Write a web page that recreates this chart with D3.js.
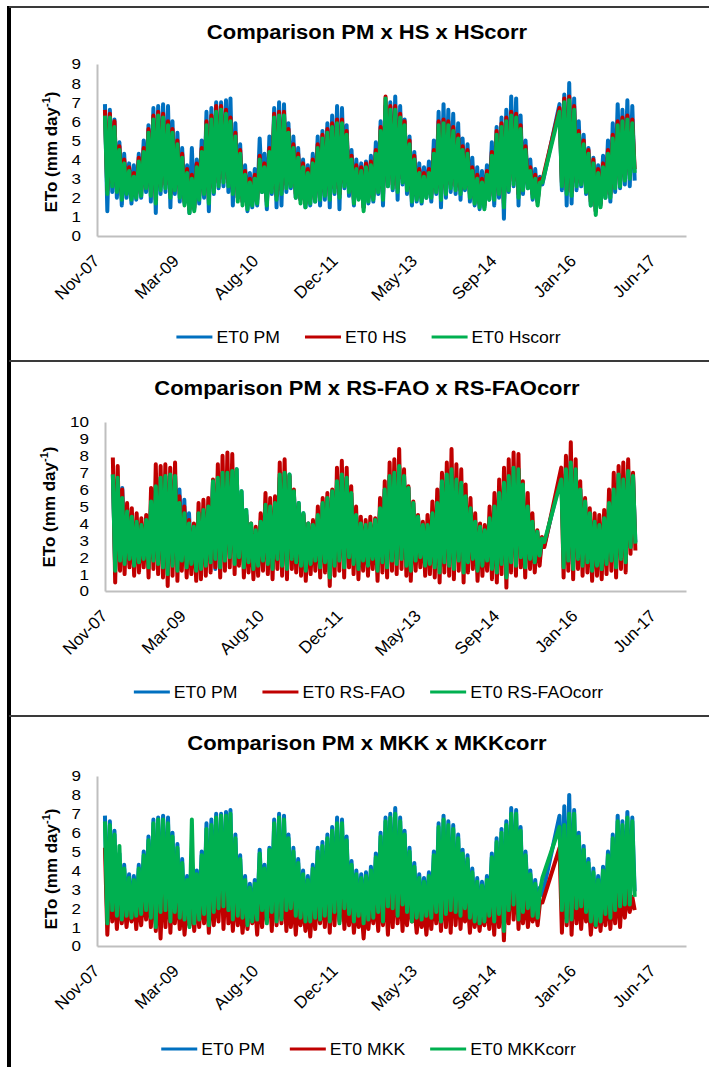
<!DOCTYPE html>
<html>
<head>
<meta charset="utf-8">
<script src="https://cdn.jsdelivr.net/npm/d3@7"></script>
<style>
  body { margin: 0; background: #fff; }
  svg { display: block; }
  text { font-family: "Liberation Sans", Arial, sans-serif; fill: #000; }
</style>
</head>
<body>
<svg id="chart" width="709" height="1067"></svg>
<script>
// ---------- data (monthly high / low of the daily ETo series, mm day-1) ----------
// months covered: Jan-2008 .. Jul-2015, then Nov-2015 .. Feb-2017 (no data Aug–Oct 2015)
const periods = [['2008-01', '2015-07'], ['2015-11', '2017-02']];

const titles = [
  'Comparison PM x HS x HScorr',
  'Comparison PM x RS-FAO x RS-FAOcorr',
  'Comparison PM x MKK x MKKcorr'
];
const legendNames = [
  ['ET0 PM', 'ET0 HS', 'ET0 Hscorr'],
  ['ET0 PM', 'ET0 RS-FAO', 'ET0 RS-FAOcorr'],
  ['ET0 PM', 'ET0 MKK', 'ET0 MKKcorr']
];
const xTickLabels = ['Nov-07', 'Mar-09', 'Aug-10', 'Dec-11', 'May-13', 'Sep-14', 'Jan-16', 'Jun-17'];

const pmHigh = [
  6.9, 6.6, 6.1, 4.9, 4.3, 3.8, 3.7, 4.3, 5.0, 5.8, 6.7, 6.8,
  6.9, 6.8, 6.0, 5.4, 4.6, 3.7, 4.6, 4.0, 5.0, 6.5, 6.7, 7.0,
  7.0, 7.1, 7.2, 5.9, 4.8, 3.7, 3.3, 3.5, 5.1, 4.3, 5.2, 6.7,
  7.0, 6.9, 5.9, 5.2, 4.6, 4.0, 3.7, 4.3, 5.2, 5.5, 5.9, 6.3,
  6.8, 6.7, 5.8, 4.5, 4.0, 3.8, 3.9, 4.2, 4.9, 6.0, 6.8, 7.0,
  7.3, 6.8, 6.1, 5.2, 4.4, 3.8, 3.6, 3.9, 5.0, 6.5, 6.9, 6.6,
  6.4, 5.9, 5.1, 4.8, 4.1, 3.6, 3.4, 3.7, 4.9, 5.7, 6.2, 6.6,
  7.3, 7.2, 6.3, 5.0, 4.0, 3.5, 3.1, 6.9, 7.4,
  8.0, 7.2, 6.0, 5.3, 4.6, 4.1, 3.7, 4.2, 5.0, 5.9, 6.9, 6.6,
  7.1, 6.8
];
const pmLow = [
  1.3, 2.3, 2.0, 1.6, 2.0, 1.7, 1.9, 2.0, 2.3, 1.8, 1.2, 2.2,
  2.3, 1.5, 2.2, 1.8, 1.7, 1.2, 1.4, 1.7, 2.0, 1.3, 2.2, 2.5,
  2.6, 2.3, 1.6, 2.0, 1.8, 1.3, 1.5, 1.6, 2.3, 1.4, 2.2, 1.5,
  1.6, 2.3, 2.5, 2.0, 1.9, 1.5, 1.6, 1.8, 1.6, 1.9, 1.5, 2.2,
  1.4, 2.5, 2.1, 1.6, 2.0, 1.5, 1.7, 1.8, 2.2, 1.6, 2.6, 2.4,
  1.9, 2.7, 2.2, 1.6, 1.8, 1.7, 2.0, 1.8, 2.2, 1.5, 2.0, 2.3,
  2.2, 1.9, 2.4, 1.8, 1.6, 1.4, 1.5, 1.9, 1.6, 2.0, 0.9, 2.3,
  2.6, 1.6, 2.2, 2.5, 1.9, 1.8, 2.7, 2.4, 1.6,
  1.7, 2.4, 2.6, 2.2, 1.6, 1.3, 1.6, 2.0, 1.8, 2.3, 2.5, 2.7,
  2.6, 2.9
];

const hsHigh = [
  6.6, 6.4, 6.0, 4.7, 4.0, 3.6, 3.3, 4.1, 4.6, 5.6, 6.3, 6.5,
  6.4, 6.0, 5.6, 5.0, 4.3, 3.5, 3.2, 3.8, 4.6, 6.0, 6.3, 6.8,
  6.8, 6.6, 6.2, 5.4, 4.5, 3.4, 3.0, 3.2, 4.2, 3.8, 4.6, 6.4,
  6.5, 6.5, 5.6, 4.8, 4.3, 3.8, 3.5, 4.0, 4.8, 5.3, 5.6, 5.9,
  6.1, 6.1, 5.5, 4.2, 3.7, 3.6, 3.8, 3.9, 4.5, 5.7, 7.3, 6.8,
  6.8, 6.4, 6.0, 5.0, 4.2, 3.5, 3.3, 3.5, 4.5, 6.0, 6.1, 6.0,
  5.7, 5.3, 4.7, 4.5, 3.6, 3.2, 3.0, 3.4, 4.4, 5.5, 5.9, 6.2,
  6.5, 6.4, 5.8, 4.7, 3.6, 3.2, 3.0, 6.7, 7.2,
  7.3, 6.8, 5.5, 5.0, 4.5, 4.0, 3.5, 3.8, 4.5, 5.3, 6.0, 6.2,
  6.3, 6.1
];
const hsLow = [
  2.4, 2.8, 2.5, 2.1, 2.4, 2.1, 2.2, 2.3, 2.7, 2.3, 1.9, 2.6,
  2.7, 2.2, 2.6, 2.2, 1.8, 1.4, 1.5, 2.1, 2.4, 1.9, 2.5, 2.8,
  3.0, 2.8, 2.4, 2.0, 1.8, 1.6, 1.8, 1.9, 2.5, 1.8, 2.5, 2.1,
  2.4, 2.7, 2.8, 2.2, 1.9, 1.7, 1.9, 2.0, 2.1, 2.3, 2.1, 2.5,
  2.2, 2.8, 2.5, 1.9, 2.1, 1.5, 2.0, 2.1, 2.5, 2.1, 2.8, 2.7,
  2.5, 3.0, 2.6, 2.0, 2.1, 2.0, 2.2, 2.2, 2.5, 2.1, 2.4, 2.7,
  2.6, 2.4, 2.7, 2.2, 1.9, 1.7, 1.6, 2.1, 2.1, 2.4, 1.7, 2.6,
  2.9, 2.2, 2.6, 2.7, 2.2, 1.8, 2.9, 2.8, 2.4,
  2.3, 2.8, 2.9, 2.5, 1.8, 1.3, 1.7, 2.2, 2.2, 2.7, 2.8, 3.1,
  3.2, 3.5
];
const hsCorrHigh = [
  6.3, 6.2, 5.7, 4.5, 3.8, 3.4, 3.1, 3.9, 4.4, 5.4, 6.1, 6.3,
  6.2, 5.8, 5.4, 4.8, 4.1, 3.3, 3.0, 3.6, 4.4, 5.8, 6.1, 6.5,
  6.6, 6.4, 6.0, 5.2, 4.3, 3.2, 2.8, 3.0, 4.0, 3.6, 4.4, 6.2,
  6.3, 6.3, 5.4, 4.6, 4.1, 3.6, 3.3, 3.8, 4.6, 5.1, 5.4, 5.7,
  5.9, 5.9, 5.3, 4.0, 3.5, 3.4, 3.6, 3.7, 4.3, 5.5, 7.2, 6.6,
  6.6, 6.2, 5.8, 4.8, 4.0, 3.3, 3.1, 3.3, 4.3, 5.8, 5.9, 5.8,
  5.5, 5.1, 4.5, 4.3, 3.4, 3.0, 2.8, 3.2, 4.2, 5.3, 5.7, 6.0,
  6.3, 6.2, 5.6, 4.5, 3.4, 3.0, 2.8, 6.5, 7.0,
  7.1, 6.6, 5.3, 4.8, 4.3, 3.8, 3.3, 3.6, 4.3, 5.1, 5.8, 6.0,
  6.1, 5.9
];
const hsCorrLow = [
  2.2, 2.6, 2.3, 1.9, 2.2, 1.9, 2.0, 2.1, 2.5, 2.1, 1.7, 2.4,
  2.5, 2.0, 2.4, 2.0, 1.6, 1.2, 1.3, 1.9, 2.2, 1.7, 2.3, 2.6,
  2.8, 2.6, 2.2, 1.8, 1.6, 1.4, 1.6, 1.7, 2.3, 1.6, 2.3, 1.9,
  2.2, 2.5, 2.6, 2.0, 1.7, 1.5, 1.7, 1.8, 1.9, 2.1, 1.9, 2.3,
  2.0, 2.6, 2.3, 1.7, 1.9, 1.3, 1.8, 1.9, 2.3, 1.9, 2.6, 2.5,
  2.3, 2.8, 2.4, 1.8, 1.9, 1.8, 2.0, 2.0, 2.3, 1.9, 2.2, 2.5,
  2.4, 2.2, 2.5, 2.0, 1.7, 1.5, 1.4, 1.9, 1.9, 2.2, 1.5, 2.4,
  2.7, 2.0, 2.4, 2.5, 2.0, 1.6, 2.8, 2.6, 2.2,
  2.1, 2.6, 2.7, 2.3, 1.6, 1.1, 1.5, 2.0, 2.0, 2.5, 2.6, 2.9,
  3.0, 3.3
];

const rsHigh = [
  7.9, 7.4, 6.0, 5.2, 4.9, 4.6, 4.3, 4.5, 6.1, 7.5, 7.4, 7.5,
  7.3, 7.6, 5.6, 5.0, 4.2, 4.0, 5.2, 5.4, 5.5, 6.6, 7.5, 8.0,
  8.2, 8.1, 6.0, 5.2, 4.5, 4.0, 3.8, 4.6, 5.8, 5.5, 5.6, 7.6,
  7.8, 6.8, 6.0, 5.0, 4.5, 4.0, 4.2, 5.0, 5.5, 5.8, 6.0, 7.3,
  7.7, 7.3, 6.2, 5.0, 4.4, 4.2, 4.4, 4.3, 5.5, 6.5, 7.6, 7.8,
  8.4, 7.2, 6.2, 5.3, 4.5, 4.1, 4.5, 5.3, 6.0, 7.0, 7.6, 8.4,
  7.5, 7.2, 6.3, 5.5, 4.6, 4.0, 3.9, 5.0, 5.8, 6.6, 7.3, 7.8,
  8.2, 8.1, 6.5, 5.8, 4.6, 3.6, 3.2, 7.3, 8.0,
  8.8, 7.8, 6.5, 5.5, 4.9, 4.6, 4.5, 4.8, 6.0, 7.0, 7.4, 7.6,
  7.8, 7.0
];
const rsLow = [
  0.5, 1.2, 1.0, 1.4, 0.9, 1.1, 1.4, 0.8, 1.3, 1.0, 0.8, 0.3,
  0.9, 0.6, 1.2, 0.8, 1.0, 0.6, 0.7, 0.9, 1.1, 1.4, 0.8, 1.2,
  1.4, 1.0, 1.5, 0.8, 1.1, 0.7, 0.9, 1.2, 1.0, 0.7, 1.3, 0.9,
  0.7, 1.3, 1.1, 0.9, 0.6, 1.0, 1.2, 0.8, 1.1, 0.3, 0.9, 1.2,
  0.8, 1.4, 1.0, 0.7, 1.2, 0.9, 1.3, 0.6, 1.1, 0.8, 1.2, 1.0,
  1.3, 0.9, 0.6, 1.2, 1.4, 0.9, 1.0, 0.8, 0.5, 1.1, 0.9, 0.7,
  1.2, 0.5, 1.1, 1.3, 0.6, 0.9, 1.2, 0.7, 0.5, 1.0, 0.2, 1.1,
  0.9, 1.4, 0.8, 1.3, 1.1, 1.5, 2.6, 0.8, 1.2,
  0.7, 1.3, 0.9, 1.1, 0.6, 0.9, 0.7, 1.0, 1.2, 0.8, 1.3, 1.1,
  2.2, 2.4
];
const rsCorrHigh = [
  6.9, 6.7, 5.5, 4.7, 4.4, 4.1, 3.9, 4.2, 5.3, 6.2, 6.7, 6.8,
  6.9, 6.8, 5.2, 4.6, 4.0, 3.8, 4.6, 4.8, 5.0, 6.5, 6.7, 7.0,
  7.0, 7.1, 7.2, 5.9, 4.8, 4.0, 3.6, 4.1, 5.1, 5.0, 5.2, 6.9,
  7.0, 6.9, 5.9, 5.2, 4.6, 4.0, 3.9, 4.5, 5.2, 5.5, 5.9, 6.5,
  6.9, 6.7, 5.8, 4.5, 4.0, 3.9, 4.0, 4.2, 4.9, 6.0, 6.8, 7.0,
  7.4, 6.8, 6.1, 5.2, 4.4, 3.9, 3.9, 4.6, 5.2, 6.5, 6.9, 7.2,
  6.6, 6.4, 5.6, 4.9, 4.1, 3.8, 3.6, 4.3, 5.0, 5.8, 6.4, 6.8,
  7.3, 7.2, 6.3, 5.0, 4.1, 3.5, 3.1, 6.6, 7.2,
  7.6, 7.2, 6.0, 5.3, 4.6, 4.1, 3.9, 4.3, 5.2, 6.0, 6.9, 6.6,
  7.1, 6.8
];
const rsCorrLow = [
  1.2, 1.8, 1.6, 1.9, 1.5, 1.7, 1.9, 1.4, 1.8, 1.6, 1.4, 1.0,
  1.5, 1.2, 1.8, 1.4, 1.6, 1.2, 1.3, 1.5, 1.7, 1.9, 1.4, 1.8,
  2.0, 1.6, 2.0, 1.4, 1.7, 1.3, 1.5, 1.8, 1.6, 1.3, 1.9, 1.5,
  1.3, 1.9, 1.7, 1.5, 1.2, 1.6, 1.8, 1.4, 1.7, 0.8, 1.5, 1.8,
  1.4, 2.0, 1.6, 1.3, 1.8, 1.5, 1.9, 1.2, 1.7, 1.4, 1.8, 1.6,
  1.9, 1.5, 1.2, 1.8, 2.0, 1.5, 1.6, 1.4, 1.1, 1.7, 1.5, 1.3,
  1.8, 1.1, 1.7, 1.9, 1.2, 1.5, 1.8, 1.3, 1.1, 1.6, 0.8, 1.7,
  1.5, 2.0, 1.4, 1.9, 1.7, 2.1, 2.9, 1.4, 1.8,
  1.3, 1.9, 1.5, 1.7, 1.2, 1.5, 1.3, 1.6, 1.8, 1.4, 1.9, 1.7,
  2.6, 2.8
];

const mkkHigh = [
  5.2, 3.5, 3.2, 2.8, 2.5, 2.4, 2.6, 2.6, 2.9, 3.3, 3.6, 3.7,
  3.8, 4.1, 3.3, 2.9, 2.5, 2.3, 2.4, 2.6, 2.9, 3.3, 3.4, 3.1,
  4.8, 3.8, 3.4, 2.9, 2.5, 2.3, 2.4, 2.5, 2.9, 2.8, 3.4, 3.9,
  3.6, 3.5, 3.0, 2.7, 2.4, 2.2, 2.3, 2.5, 2.8, 3.0, 3.4, 3.9,
  4.2, 3.6, 2.9, 2.6, 2.2, 2.1, 2.3, 2.4, 2.6, 2.9, 3.1, 3.4,
  3.7, 3.4, 3.0, 2.5, 2.1, 2.0, 2.2, 2.3, 2.7, 3.2, 3.5, 3.8,
  4.0, 3.4, 2.8, 2.5, 2.4, 2.1, 2.0, 2.3, 2.8, 3.3, 3.6, 3.9,
  4.6, 4.0, 3.3, 2.7, 2.3, 2.1, 2.3, 5.2, 4.4,
  4.7, 3.8, 3.3, 2.9, 2.5, 2.2, 2.3, 2.5, 2.9, 3.0, 3.2, 3.3,
  3.0, 2.6
];
const mkkLow = [
  0.6, 1.3, 0.9, 1.2, 1.0, 1.3, 0.9, 1.1, 1.4, 1.0, 0.8, 0.4,
  1.0, 0.7, 1.2, 0.9, 0.6, 1.1, 0.8, 1.0, 1.2, 0.7, 1.1, 1.3,
  0.9, 1.2, 0.8, 1.1, 0.7, 0.9, 1.2, 0.6, 1.0, 1.3, 0.8, 1.1,
  1.2, 0.8, 1.0, 0.6, 1.1, 0.8, 0.5, 0.9, 1.2, 1.0, 0.7, 1.1,
  1.3, 0.9, 1.1, 0.7, 1.0, 0.4, 0.9, 1.2, 0.8, 1.1, 0.6, 1.0,
  1.2, 0.8, 1.1, 1.3, 0.7, 1.0, 0.6, 0.9, 1.2, 0.8, 1.0, 0.7,
  1.1, 0.9, 1.3, 0.7, 1.0, 0.8, 1.1, 0.9, 0.6, 1.0, 0.3, 1.2,
  1.4, 0.9, 1.2, 1.0, 1.3, 1.1, 2.3, 0.7, 1.1,
  0.6, 1.2, 0.9, 1.3, 0.6, 1.0, 0.8, 1.1, 0.9, 1.2, 1.0, 1.5,
  1.8, 1.9
];
const mkkCorrHigh = [
  6.6, 6.4, 5.9, 5.3, 4.1, 3.6, 3.5, 4.1, 4.8, 5.6, 6.5, 6.7,
  6.7, 6.5, 5.8, 5.2, 4.4, 3.5, 6.7, 3.8, 4.8, 6.2, 6.4, 6.8,
  6.9, 6.9, 7.0, 5.7, 4.6, 3.5, 3.1, 3.3, 4.9, 4.1, 5.1, 6.5,
  6.8, 6.7, 5.7, 5.0, 4.4, 3.8, 3.5, 4.1, 5.0, 5.3, 5.7, 6.1,
  6.5, 6.5, 5.6, 4.3, 3.8, 3.6, 3.7, 4.0, 4.7, 5.8, 6.6, 6.8,
  7.0, 6.6, 5.9, 5.0, 4.2, 3.6, 3.4, 3.7, 4.8, 6.3, 6.7, 6.4,
  6.2, 5.7, 4.9, 4.6, 3.9, 3.4, 3.2, 3.5, 4.7, 5.5, 6.0, 6.4,
  7.0, 7.0, 6.1, 4.8, 3.8, 3.3, 2.9, 6.3, 6.4,
  7.0, 7.0, 5.8, 5.1, 4.4, 3.9, 3.5, 4.0, 4.8, 5.7, 6.6, 6.4,
  6.8, 6.6
];
const mkkCorrLow = [
  1.2, 1.9, 1.6, 1.4, 1.6, 1.5, 1.6, 1.7, 1.9, 1.5, 1.0, 1.8,
  1.9, 1.3, 1.8, 1.5, 1.4, 1.0, 1.2, 1.4, 1.7, 1.1, 1.8, 2.0,
  2.1, 1.9, 1.4, 1.6, 1.5, 1.1, 1.3, 1.4, 1.9, 1.2, 1.8, 1.3,
  1.4, 1.9, 2.0, 1.6, 1.5, 1.3, 1.3, 1.5, 1.4, 1.6, 1.3, 1.8,
  1.2, 2.0, 1.7, 1.3, 1.6, 1.2, 1.4, 1.5, 1.8, 1.3, 2.1, 2.0,
  1.6, 2.2, 1.8, 1.3, 1.5, 1.4, 1.6, 1.5, 1.8, 1.3, 1.7, 1.9,
  1.8, 1.6, 2.0, 1.5, 1.3, 1.2, 1.3, 1.6, 1.3, 1.7, 0.8, 1.9,
  2.2, 1.4, 1.8, 2.0, 1.6, 1.5, 3.6, 1.9, 1.3,
  1.4, 2.0, 2.1, 1.8, 1.3, 1.1, 1.3, 1.7, 1.5, 1.9, 2.1, 2.2,
  2.2, 2.6
];

// ---------- layout ----------
const W = 709, H = 1067;
const COLORS = ['#0070C0', '#C00000', '#00B050'];
const AXIS_GRAY = '#BFBFBF';
const STRETCH = 1.1;   // the source picture is a little wider than the font metrics

const panels = [
  { title: titles[0], names: legendNames[0], yMax: 9,  left: 97,  top: 64,  bottom: 236, titleY: 39,  legendY: 337, yLabelX: 57, yLabelY: 152,
    series: [[pmHigh, pmLow], [hsHigh, hsLow], [hsCorrHigh, hsCorrLow]] },
  { title: titles[1], names: legendNames[1], yMax: 10, left: 105, top: 422, bottom: 591, titleY: 395, legendY: 692, yLabelX: 55, yLabelY: 507,
    series: [[pmHigh, pmLow], [rsHigh, rsLow], [rsCorrHigh, rsCorrLow]] },
  { title: titles[2], names: legendNames[2], yMax: 9,  left: 97,  top: 776, bottom: 946, titleY: 750, legendY: 1049, yLabelX: 57, yLabelY: 869,
    series: [[pmHigh, pmLow], [mkkHigh, mkkLow], [mkkCorrHigh, mkkCorrLow]] }
];
const RIGHT = 686;

const parseMonth = d3.utcParse('%Y-%m');
const months = periods.flatMap(([a, b]) =>
  d3.utcMonth.range(parseMonth(a), d3.utcMonth.offset(parseMonth(b), 1)));

// Excel date axis: starts mid Nov-2007, a label every 500 days
const axisStart = Date.UTC(2007, 10, 12);
const axisEnd = d3.utcDay.offset(new Date(axisStart), 3707);
const xTicks = xTickLabels.map((_, i) => d3.utcDay.offset(new Date(axisStart), 500 * i));

function toPoints(high, low) {
  if (high.length !== months.length || low.length !== months.length)
    console.error('length mismatch', high.length, low.length, months.length);
  const pts = [];
  months.forEach((m, i) => {
    pts.push({ date: m, v: high[i] });
    pts.push({ date: d3.utcDay.offset(m, 15), v: low[i] });
  });
  return pts;
}

function stretch(sel, k) {
  sel.each(function () {
    const w = this.getComputedTextLength();
    d3.select(this).attr('textLength', w * k).attr('lengthAdjust', 'spacingAndGlyphs');
  });
}

const svg = d3.select('#chart');
svg.append('rect').attr('width', W).attr('height', H).attr('fill', '#fff');

// frame: thick bar on the left, rules between the panels
svg.append('rect').attr('x', 7).attr('y', 6).attr('width', 4).attr('height', H - 6).attr('fill', '#000');
[7, 361, 716].forEach(y => {
  svg.append('line').attr('x1', 9).attr('x2', W).attr('y1', y).attr('y2', y)
    .attr('stroke', '#3a3a3a').attr('stroke-width', 2);
});

panels.forEach((p, pi) => {
  const g = svg.append('g').attr('class', 'panel-' + pi);
  const x = d3.scaleUtc().domain([new Date(axisStart), axisEnd]).range([p.left, RIGHT]);
  const y = d3.scaleLinear().domain([0, p.yMax]).range([p.bottom, p.top]);

  // title
  g.append('text').attr('x', 367).attr('y', p.titleY).attr('text-anchor', 'middle')
    .attr('font-size', 20).attr('font-weight', 'bold').text(p.title)
    .call(stretch, STRETCH);

  // y axis
  const yAxis = g.append('g').attr('transform', `translate(${p.left},0)`)
    .call(d3.axisLeft(y).tickValues(d3.range(0, p.yMax + 1)).tickSize(0).tickSizeOuter(0).tickPadding(16));
  yAxis.select('.domain').attr('stroke', AXIS_GRAY).attr('stroke-width', 2);
  yAxis.selectAll('text').attr('font-size', 15.5).attr('fill', '#000')
    .style('font-family', '"Liberation Sans", Arial, sans-serif')
    .call(stretch, STRETCH);

  // y title
  const yt = g.append('text').attr('transform', `translate(${p.yLabelX},${p.yLabelY}) rotate(-90)`)
    .attr('text-anchor', 'middle').attr('font-size', 17).attr('font-weight', 'bold');
  yt.append('tspan').text('ETo (mm day');
  yt.append('tspan').attr('font-size', 11).attr('dy', -7).text('-1');
  yt.append('tspan').attr('dy', 7).text(')');

  // series: PM first, then the model, corrected model on top
  const line = d3.line().x(d => x(d.date)).y(d => y(d.v));
  p.series.forEach(([hi, lo], si) => {
    g.append('path').datum(toPoints(hi, lo))
      .attr('d', line).attr('fill', 'none')
      .attr('stroke', COLORS[si]).attr('stroke-width', 4)
      .attr('stroke-linejoin', 'round');
  });

  // x axis
  const xAxis = g.append('g').attr('transform', `translate(0,${p.bottom})`)
    .call(d3.axisBottom(x).tickValues(xTicks).tickFormat((d, i) => xTickLabels[i]).tickSize(0).tickSizeOuter(0));
  xAxis.select('.domain').attr('stroke', AXIS_GRAY).attr('stroke-width', 2);
  xAxis.selectAll('text')
    .attr('x', 0).attr('y', 0).attr('dy', 0)
    .attr('transform', 'translate(3,26) rotate(-45)')
    .style('text-anchor', 'end')
    .style('font-family', '"Liberation Sans", Arial, sans-serif')
    .attr('font-size', 17).attr('fill', '#000');

  // legend
  const lg = g.append('g');
  const items = p.names.map((name, i) => {
    const it = lg.append('g');
    it.append('line').attr('x1', 0).attr('x2', 36).attr('stroke', COLORS[i]).attr('stroke-width', 3);
    const t = it.append('text').attr('x', 40).attr('dy', '0.35em').attr('font-size', 16).text(name);
    const w = t.node().getComputedTextLength() * STRETCH;
    t.attr('textLength', w).attr('lengthAdjust', 'spacingAndGlyphs');
    return { it, width: 40 + w };
  });
  const gap = 25;
  const total = d3.sum(items, d => d.width) + gap * (items.length - 1);
  let cx = 368.5 - total / 2;
  items.forEach(d => {
    d.it.attr('transform', `translate(${cx},${p.legendY})`);
    cx += d.width + gap;
  });
});
</script>
</body>
</html>
